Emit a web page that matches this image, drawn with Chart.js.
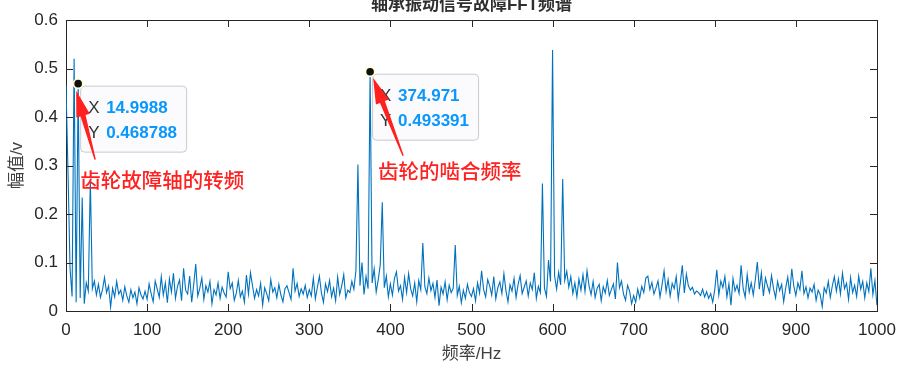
<!DOCTYPE html>
<html>
<head>
<meta charset="utf-8">
<script src="https://cdn.jsdelivr.net/npm/chart.js@4.4.1/dist/chart.umd.min.js"></script>
<style>
  html, body { margin: 0; padding: 0; background: #fff; }
  canvas { display: block; }
</style>
</head>
<body>
<canvas id="spec" width="898" height="367"></canvas>
<script>
// plotted every 5 FFT bins (bin width 0.49996 Hz)
const binHz = 2.49981;

// spectrum amplitude (V), one value per plotted bin, 0 .. 1000 Hz
const amplitude = [
  0.465, 0.285, 0.088, 0.030, 0.520, 0.018, 0.468788, 0.027, 0.234, 0.015, 0.058, 0.041, 0.270, 0.046, 0.062, 0.033, 0.055, 0.028, 0.044, 0.069,
  0.038, 0.052, 0.008, 0.047, 0.029, 0.061, 0.035, 0.043, 0.022, 0.050, 0.031, 0.018, 0.044, 0.027, 0.039, 0.015, 0.048, 0.033, 0.025, 0.041,
  0.024, 0.056, 0.036, 0.019, 0.062, 0.045, 0.028, 0.071, 0.033, 0.058, 0.017, 0.066, 0.039, 0.078, 0.026, 0.051, 0.064, 0.021, 0.088, 0.043,
  0.035, 0.072, 0.018, 0.055, 0.097, 0.031, 0.047, 0.068, 0.024, 0.052, 0.039, 0.061, 0.015, 0.044, 0.033, 0.058, 0.026, 0.049, 0.037, 0.029,
  0.081, 0.046, 0.058, 0.022, 0.037, 0.063, 0.029, 0.041, 0.018, 0.074, 0.035, 0.079, 0.052, 0.026, 0.044, 0.031, 0.057, 0.012, 0.048, 0.036,
  0.021, 0.065, 0.039, 0.048, 0.027, 0.055, 0.033, 0.019, 0.046, 0.052, 0.038, 0.024, 0.088, 0.041, 0.057, 0.030, 0.046, 0.035, 0.053, 0.028,
  0.044, 0.031, 0.068, 0.025, 0.049, 0.072, 0.037, 0.018, 0.056, 0.040, 0.063, 0.029, 0.047, 0.021, 0.070, 0.034, 0.052, 0.075, 0.027, 0.043,
  0.038, 0.061, 0.045, 0.083, 0.302, 0.052, 0.100, 0.034, 0.071, 0.046, 0.493391, 0.058, 0.087, 0.039, 0.064, 0.095, 0.224, 0.048, 0.072, 0.029,
  0.056, 0.033, 0.067, 0.081, 0.041, 0.052, 0.024, 0.069, 0.038, 0.077, 0.046, 0.031, 0.058, 0.019, 0.063, 0.044, 0.140, 0.050, 0.036, 0.068,
  0.042, 0.057, 0.028, 0.064, 0.011, 0.049, 0.035, 0.060, 0.023, 0.053, 0.038, 0.047, 0.136, 0.032, 0.051, 0.017, 0.043, 0.026, 0.055, 0.038,
  0.030, 0.046, 0.021, 0.058, 0.037, 0.083, 0.044, 0.029, 0.065, 0.052, 0.033, 0.071, 0.025, 0.048, 0.060, 0.036, 0.077, 0.042, 0.019, 0.054,
  0.041, 0.067, 0.028, 0.055, 0.073, 0.036, 0.049, 0.062, 0.031, 0.058, 0.044, 0.079, 0.026, 0.051, 0.038, 0.263, 0.047, 0.030, 0.105, 0.061,
  0.538, 0.072, 0.045, 0.080, 0.054, 0.272, 0.063, 0.082, 0.049, 0.071, 0.036, 0.058, 0.029, 0.066, 0.043, 0.075, 0.040, 0.083, 0.052, 0.034,
  0.061, 0.028, 0.047, 0.055, 0.021, 0.050, 0.037, 0.063, 0.032, 0.044, 0.056, 0.025, 0.100, 0.048, 0.062, 0.035, 0.022, 0.053, 0.041, 0.015,
  0.032, 0.018, 0.045, 0.027, 0.051, 0.038, 0.068, 0.072, 0.044, 0.059, 0.035, 0.047, 0.062, 0.029, 0.054, 0.083, 0.040, 0.065, 0.031, 0.057,
  0.046, 0.071, 0.025, 0.058, 0.094, 0.037, 0.076, 0.052, 0.043, 0.049, 0.035, 0.041, 0.038, 0.032, 0.045, 0.029, 0.040, 0.026, 0.036, 0.018,
  0.044, 0.085, 0.033, 0.062, 0.048, 0.071, 0.029, 0.056, 0.012, 0.067, 0.041, 0.053, 0.036, 0.094, 0.047, 0.028, 0.075, 0.039, 0.058, 0.033,
  0.064, 0.101, 0.045, 0.079, 0.031, 0.068, 0.052, 0.038, 0.073, 0.046, 0.027, 0.061, 0.042, 0.055, 0.019, 0.048, 0.070, 0.035, 0.087, 0.051,
  0.032, 0.058, 0.044, 0.083, 0.036, 0.050, 0.027, 0.047, 0.039, 0.055, 0.022, 0.043, 0.034, 0.009, 0.048, 0.037, 0.061, 0.028, 0.052, 0.071,
  0.041, 0.066, 0.035, 0.078, 0.046, 0.057, 0.024, 0.069, 0.038, 0.053, 0.030, 0.072, 0.045, 0.061, 0.027, 0.058, 0.040, 0.088, 0.034, 0.063, 0.012
];

// data tips
const tipHz = [14.9988, 374.971];
const tipAmp = [0.468788, 0.493391];
const tipNotes = ["齿轮故障轴的转频", "齿轮的啮合频率"];

const titleText = "轴承振动信号故障FFT频谱";
const xLabel = "频率/Hz";
const yLabel = "幅值/v";

const sans = '"Liberation Sans", Arial, "Noto Sans CJK SC", sans-serif';
const axisColor = "#262626";
const lineBlue = "#0072BD";
const noteRed = "#ff2020";

const points = amplitude.map((v, i) => ({ x: i * binHz, y: v }));

function arrow(ctx, x0, y0, x1, y1) {
  // tapered arrow from tail (x0,y0) to tip (x1,y1)
  const dx = x1 - x0, dy = y1 - y0, len = Math.hypot(dx, dy);
  const ux = dx / len, uy = dy / len, nx = -uy, ny = ux;
  const head = 26, hw = 7, sw = 2.6, tw = 0.7;
  const bx = x1 - ux * head, by = y1 - uy * head;
  ctx.beginPath();
  ctx.moveTo(x0 + nx * tw, y0 + ny * tw);
  ctx.lineTo(bx + nx * sw, by + ny * sw);
  ctx.lineTo(bx + nx * hw, by + ny * hw);
  ctx.lineTo(x1, y1);
  ctx.lineTo(bx - nx * hw, by - ny * hw);
  ctx.lineTo(bx - nx * sw, by - ny * sw);
  ctx.lineTo(x0 - nx * tw, y0 - ny * tw);
  ctx.closePath();
  ctx.fill();
}

const overlay = {
  id: "overlay",
  afterDraw(chart) {
    const { ctx, chartArea: a, scales: { x, y } } = chart;
    ctx.save();

    // title (sits partly above the canvas)
    ctx.fillStyle = "#303030";
    ctx.font = "bold 17px " + sans;
    ctx.textAlign = "center";
    ctx.textBaseline = "middle";
    ctx.fillText(titleText, (a.left + a.right) / 2, 5);

    // box and inward ticks
    ctx.strokeStyle = axisColor;
    ctx.lineWidth = 1;
    ctx.beginPath();
    ctx.moveTo(a.left, a.top + 0.5);
    ctx.lineTo(a.right + 0.5, a.top + 0.5);
    ctx.lineTo(a.right + 0.5, a.bottom);
    const tl = 7;
    x.ticks.forEach(t => {
      const px = Math.round(x.getPixelForValue(t.value)) + 0.5;
      ctx.moveTo(px, a.bottom); ctx.lineTo(px, a.bottom - tl);
      ctx.moveTo(px, a.top); ctx.lineTo(px, a.top + tl);
    });
    y.ticks.forEach(t => {
      const py = Math.round(y.getPixelForValue(t.value)) + 0.5;
      ctx.moveTo(a.left, py); ctx.lineTo(a.left + tl, py);
      ctx.moveTo(a.right, py); ctx.lineTo(a.right - tl, py);
    });
    ctx.stroke();

    const pos = tipHz.map((f, i) => [x.getPixelForValue(f), y.getPixelForValue(tipAmp[i])]);

    // data tip boxes
    pos.forEach(([px, py], i) => {
      ctx.beginPath();
      ctx.roundRect(px + 2.5, py + 2.5, 106, 66, 4);
      ctx.fillStyle = "#fbfbfd";
      ctx.fill();
      ctx.strokeStyle = "#c9c9cf";
      ctx.stroke();

      ctx.textAlign = "left";
      ctx.textBaseline = "middle";
      ctx.font = "17px " + sans;
      ctx.fillStyle = "#333";
      ctx.fillText("X", px + 10, py + 25);
      ctx.fillText("Y", px + 10, py + 50);
      ctx.font = "bold 17px " + sans;
      ctx.fillStyle = "#0a97fb";
      ctx.fillText(String(tipHz[i]), px + 28, py + 25);
      ctx.fillText(String(tipAmp[i]), px + 28, py + 50);

      // marker
      ctx.beginPath();
      ctx.arc(px, py, 5.5, 0, Math.PI * 2);
      ctx.fillStyle = "#ffffd0";
      ctx.fill();
      ctx.beginPath();
      ctx.arc(px, py, 3.8, 0, Math.PI * 2);
      ctx.fillStyle = "#111";
      ctx.fill();
    });

    // red notes with arrows
    ctx.fillStyle = noteRed;
    const [p1, p2] = pos;
    arrow(ctx, p1[0] + 17, p1[1] + 76, p1[0] - 2, p1[1] + 7);
    arrow(ctx, p2[0] + 33, p2[1] + 84, p2[0] + 3, p2[1] + 6);
    ctx.font = '500 20.5px "Noto Sans CJK SC", sans-serif';
    ctx.textAlign = "left";
    ctx.textBaseline = "middle";
    ctx.fillText(tipNotes[0], p1[0] + 2, p1[1] + 97);
    ctx.fillText(tipNotes[1], p2[0] + 8, p2[1] + 99);

    ctx.restore();
  }
};

new Chart(document.getElementById("spec"), {
  type: "line",
  data: {
    datasets: [{
      data: points,
      borderColor: lineBlue,
      borderWidth: 1.1,
      pointRadius: 0,
      tension: 0,
      fill: false
    }]
  },
  options: {
    responsive: false,
    animation: false,
    events: [],
    layout: { padding: { top: 20, right: 21, left: 0, bottom: 0 } },
    plugins: { legend: { display: false }, tooltip: { enabled: false }, title: { display: false } },
    scales: {
      x: {
        type: "linear",
        min: 0,
        max: 1000,
        afterFit(s) { s.height = 56; s.paddingLeft = 0; s.paddingRight = 0; },
        grid: { display: false, drawTicks: false },
        border: { display: true, color: axisColor, width: 1 },
        ticks: { stepSize: 100, padding: 9, color: axisColor, font: { family: sans, size: 17 }, maxRotation: 0, callback: v => String(v) },
        title: { display: true, text: xLabel, color: "#404040", font: { family: sans, size: 17, lineHeight: 1.2 }, padding: { top: 0, bottom: 2 } }
      },
      y: {
        min: 0,
        max: 0.6,
        afterFit(s) { s.width = 66; s.paddingTop = 0; s.paddingBottom = 0; },
        grid: { display: false, drawTicks: false },
        border: { display: true, color: axisColor, width: 1 },
        ticks: { stepSize: 0.1, padding: 8, color: axisColor, font: { family: sans, size: 17 }, callback: v => String(Math.round(v * 10) / 10) },
        title: { display: true, text: yLabel, color: "#404040", font: { family: sans, size: 17, lineHeight: 1.2 }, padding: { top: 7, bottom: 0 } }
      }
    }
  },
  plugins: [overlay]
});
</script>
</body>
</html>
